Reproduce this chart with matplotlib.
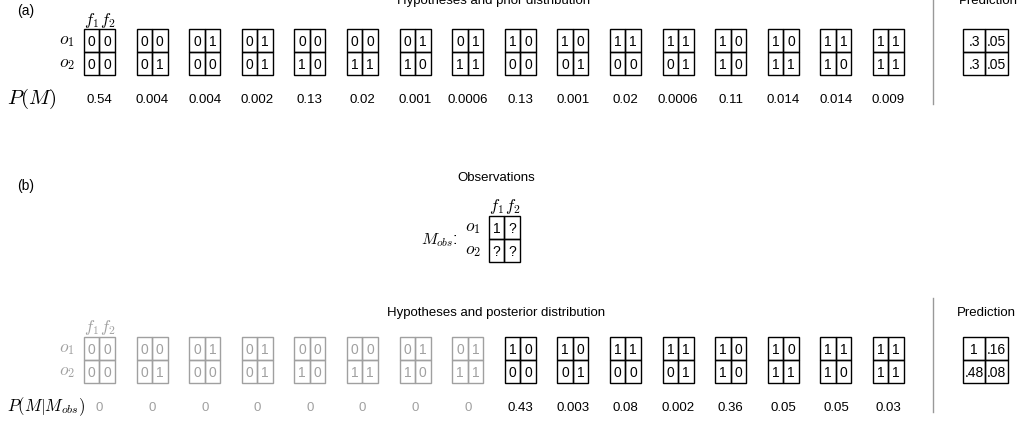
import matplotlib
matplotlib.use("Agg")
import matplotlib.pyplot as plt
from matplotlib.patches import Rectangle

plt.rcParams['font.family'] = ['Liberation Sans', 'DejaVu Sans']
plt.rcParams['mathtext.fontset'] = 'cm'

# ---- data ----
hypotheses = [
    ["00", "00"], ["00", "01"], ["01", "00"], ["01", "01"],
    ["00", "10"], ["00", "11"], ["01", "10"], ["01", "11"],
    ["10", "00"], ["10", "01"], ["11", "00"], ["11", "01"],
    ["10", "10"], ["10", "11"], ["11", "10"], ["11", "11"],
]
prior = ["0.54", "0.004", "0.004", "0.002", "0.13", "0.02", "0.001", "0.0006",
         "0.13", "0.001", "0.02", "0.0006", "0.11", "0.014", "0.014", "0.009"]
posterior = ["0", "0", "0", "0", "0", "0", "0", "0",
             "0.43", "0.003", "0.08", "0.002", "0.36", "0.05", "0.05", "0.03"]
prior_prediction = [[".3", ".05"], [".3", ".05"]]
post_prediction = [["1", ".16"], [".48", ".08"]]
observation = [["1", "?"], ["?", "?"]]

fig = plt.figure(figsize=(10.18, 4.27), dpi=100)
ax = fig.add_axes([0, 0, 1, 1])
ax.set_xlim(0, 1018)
ax.set_ylim(427, 0)
ax.axis('off')

CW, CH = 15.5, 23.0
X0, DX = 84.0, 52.6
GREY = '#a0a0a0'


def draw_grid(x, y, cells, cw=CW, ch=CH, color='black', fs=10):
    for r in range(2):
        for c in range(2):
            ax.add_patch(Rectangle((x + c * cw, y + r * ch), cw, ch,
                                   fill=False, ec=color, lw=1.0))
            ax.text(x + c * cw + cw / 2, y + r * ch + ch / 2 + 0.5, cells[r][c],
                    ha='center', va='center', fontsize=fs, color=color)


def axis_labels(x, ytop, color, olabel_x):
    ax.text(x + CW / 2, ytop - 10, r'$f_1$', ha='center', va='center', fontsize=12, color=color)
    ax.text(x + 1.5 * CW, ytop - 10, r'$f_2$', ha='center', va='center', fontsize=12, color=color)
    ax.text(olabel_x, ytop + CH / 2, r'$o_1$', ha='center', va='center', fontsize=12.5, color=color)
    ax.text(olabel_x, ytop + 1.5 * CH, r'$o_2$', ha='center', va='center', fontsize=12.5, color=color)


def draw_row(ytop, values, label, label_fs, grey_zero=False):
    for i, (h, v) in enumerate(zip(hypotheses, values)):
        col = GREY if (grey_zero and v == "0") else 'black'
        x = X0 + i * DX
        draw_grid(x, ytop, h, color=col)
        ax.text(x + CW, ytop + 70, v, ha='center', va='center',
                fontsize=9.5, color=col)
    axis_labels(X0, ytop, GREY if grey_zero else 'black', X0 - 17)
    ax.text(7, ytop + 69, label, ha='left', va='center', fontsize=label_fs)


# ---- panel (a) ----
ax.text(17, 11, "(a)", ha='left', va='center', fontsize=10)
ax.text(494, 1, "Hypotheses and prior distribution", ha='center', va='center', fontsize=9.5)
ax.text(988, 1, "Prediction", ha='center', va='center', fontsize=9.5)
draw_row(30, prior, r'$P(M)$', 15)
ax.plot([933, 933], [0, 105], color='#999999', lw=1.0)
draw_grid(963, 30, prior_prediction, cw=22.5)

# ---- panel (b) ----
ax.text(17, 186, "(b)", ha='left', va='center', fontsize=10)
ax.text(496, 178, "Observations", ha='center', va='center', fontsize=9.5)
draw_grid(489, 217, observation)
axis_labels(489, 217, 'black', 473)
ax.text(458, 240, r'$M_{obs}$:', ha='right', va='center', fontsize=11.5)

ax.text(496, 313, "Hypotheses and posterior distribution", ha='center', va='center', fontsize=9.5)
ax.text(986, 313, "Prediction", ha='center', va='center', fontsize=9.5)
draw_row(338, posterior, r'$P(M|M_{obs})$', 12, grey_zero=True)
ax.plot([933, 933], [299, 413], color='#999999', lw=1.0)
draw_grid(963, 338, post_prediction, cw=22.5)

fig.savefig("out.png", dpi=100)
